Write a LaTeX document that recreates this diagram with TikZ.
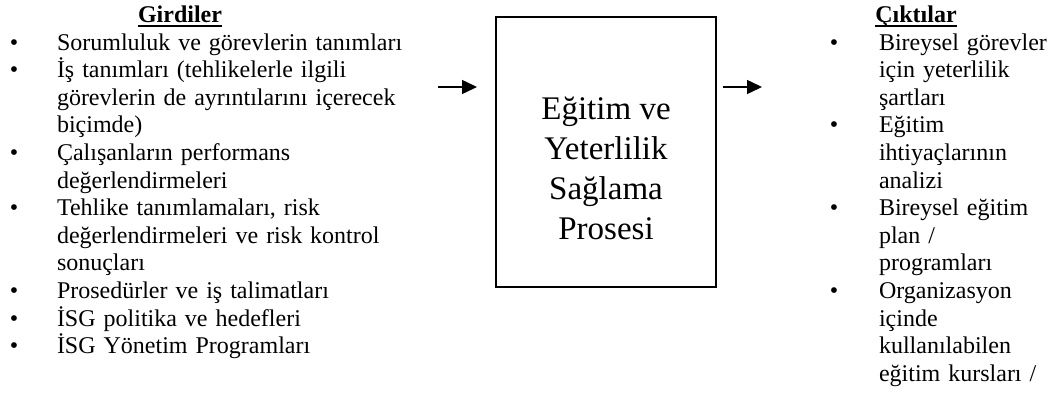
\documentclass[tikz,border=0pt]{standalone}
\usepackage{fontspec}
\setmainfont{Liberation Serif}
\usetikzlibrary{arrows.meta}

% bold heading with a solid rule under it
\newcommand{\hdline}[1]{\leavevmode\setbox0\hbox{#1}\rlap{\rule[-4.3pt]{\wd0}{2pt}}\box0}

\begin{document}
\begin{tikzpicture}[x=1pt,y=-1pt,
  every node/.style={inner sep=0pt, outer sep=0pt},
  listfont/.style={font=\fontsize{24}{27.6}\selectfont},
  itemtext/.style={listfont, anchor=base west, align=left, text width=#1},
  bulletmark/.style={listfont, anchor=base},
  heading/.style={font=\fontsize{24}{27.6}\selectfont\bfseries, anchor=base},
  procbox/.style={draw, line width=1.3pt, minimum width=220pt, minimum height=270pt},
  proctext/.style={font=\fontsize{33}{40}\selectfont, align=center},
  flow/.style={line width=1.5pt, -{Triangle[length=15pt,width=14pt]}}]

  \useasboundingbox[fill=white] (0,0) rectangle (1054,392);

  % inputs column
  \node[heading] (inhead) at (180,22.4) {\hdline{Girdiler}};
  \node[bulletmark] (ib1) at (14,50) {•};
  \node[itemtext=360pt] (in1) at (57,50) {Sorumluluk ve görevlerin tanımları};
  \node[bulletmark] (ib2) at (14,77.6) {•};
  \node[itemtext=360pt] (in2) at (57,77.6) {İş tanımları (tehlikelerle ilgili\\görevlerin de ayrıntılarını içerecek\\biçimde)};
  \node[bulletmark] (ib3) at (14,160.4) {•};
  \node[itemtext=360pt] (in3) at (57,160.4) {Çalışanların performans\\değerlendirmeleri};
  \node[bulletmark] (ib4) at (14,215.6) {•};
  \node[itemtext=360pt] (in4) at (57,215.6) {Tehlike tanımlamaları, risk\\değerlendirmeleri ve risk kontrol\\sonuçları};
  \node[bulletmark] (ib5) at (14,298.4) {•};
  \node[itemtext=360pt] (in5) at (57,298.4) {Prosedürler ve iş talimatları};
  \node[bulletmark] (ib6) at (14,326) {•};
  \node[itemtext=360pt] (in6) at (57,326) {İSG politika ve hedefleri};
  \node[bulletmark] (ib7) at (14,353.6) {•};
  \node[itemtext=360pt] (in7) at (57,353.6) {İSG Yönetim Programları};

  % process box
  \node[procbox] (box) at (606,152) {};
  \node[proctext] (boxlabel) at (606,168) {Eğitim ve\\Yeterlilik\\Sağlama\\Prosesi};

  % arrows into and out of the process
  \coordinate (inA) at (438,87);
  \coordinate (inB) at (477,87);
  \coordinate (outA) at (723,87);
  \coordinate (outB) at (762,87);
  \draw[flow] (inA) -- (inB);
  \draw[flow] (outA) -- (outB);

  % outputs column
  \node[heading] (outhead) at (916,22.4) {\hdline{Çıktılar}};
  \node[bulletmark] (ob1) at (834,50) {•};
  \node[itemtext=175pt] (out1) at (879,50) {Bireysel görevler\\için yeterlilik\\şartları};
  \node[bulletmark] (ob2) at (834,132.8) {•};
  \node[itemtext=175pt] (out2) at (879,132.8) {Eğitim\\ihtiyaçlarının\\analizi};
  \node[bulletmark] (ob3) at (834,215.6) {•};
  \node[itemtext=175pt] (out3) at (879,215.6) {Bireysel eğitim\\plan /\\programları};
  \node[bulletmark] (ob4) at (834,298.4) {•};
  \node[itemtext=175pt] (out4) at (879,298.4) {Organizasyon\\içinde\\kullanılabilen\\eğitim kursları /};
\end{tikzpicture}
\end{document}
